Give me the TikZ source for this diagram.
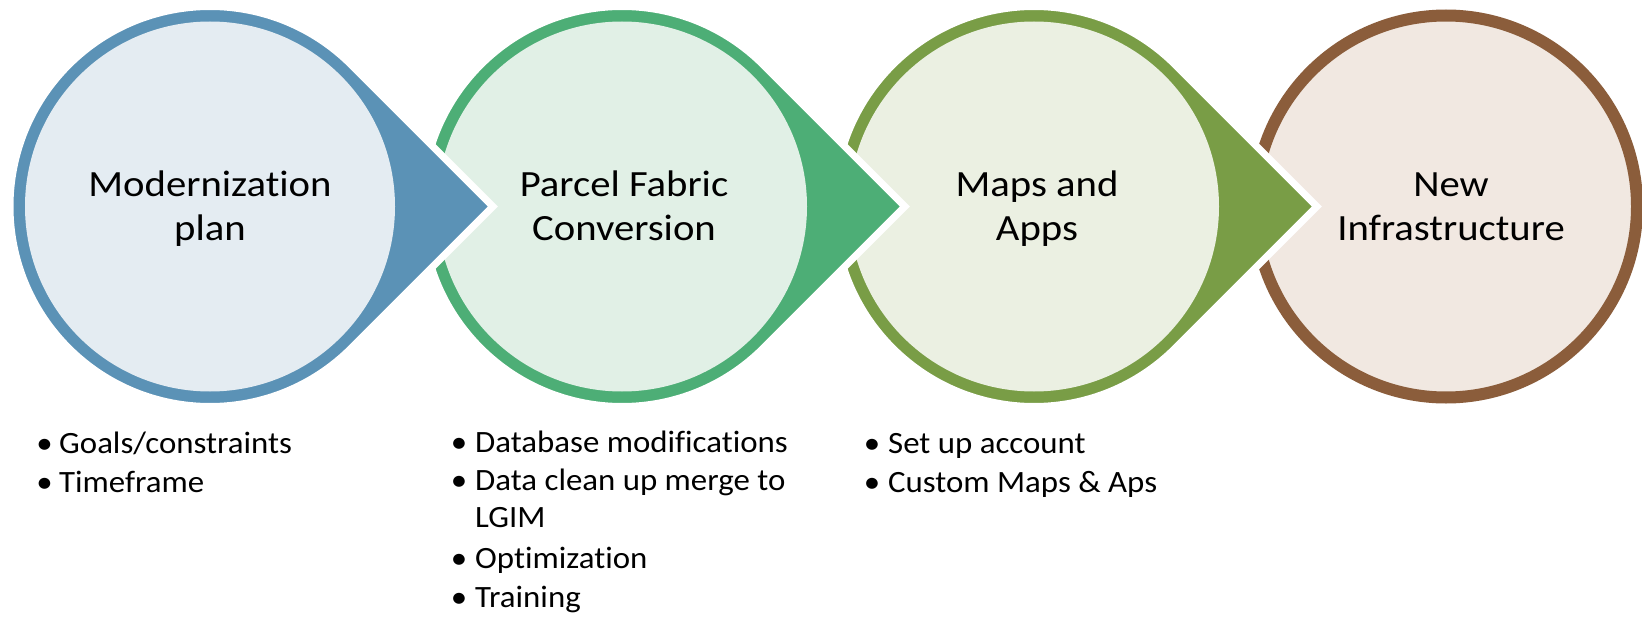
\documentclass[tikz,border=0pt]{standalone}
\usepackage{fontspec}
\setmainfont[Ligatures={NoCommon}]{Carlito}
\newfontfamily\ttlfont[FakeStretch=1.1,Ligatures={NoCommon}]{Carlito}
\newfontfamily\bulfont[FakeStretch=1.06,Ligatures={NoCommon}]{Carlito}
\usetikzlibrary{calc}
\definecolor{cA}{HTML}{5B92B6}
\definecolor{cAt}{HTML}{E4ECF2}
\definecolor{cB}{HTML}{4DAE76}
\definecolor{cBt}{HTML}{E1F0E6}
\definecolor{cC}{HTML}{799D46}
\definecolor{cCt}{HTML}{EBF0E2}
\definecolor{cD}{HTML}{8B5D3B}
\definecolor{cDt}{HTML}{F1E8E1}
\begin{document}
\begin{tikzpicture}[x=1pt,y=-1pt,
  ttl/.style={font=\ttlfont\fontsize{37}{44}\selectfont, inner sep=0, anchor=base},
  bultxt/.style={font=\bulfont\fontsize{31}{37}\selectfont, inner sep=0, anchor=base west},
  bulmark/.style={font=\bulfont\fontsize{31}{37}\selectfont, inner sep=0, anchor=base},
  drop/.style={line width=7, draw=white, line join=miter}]
\useasboundingbox (0,0) rectangle (1642,618);
\fill[white] (0,0) rectangle (1642,618);
\coordinate (c1) at (210,206.5);
\coordinate (c2) at (622,206.5);
\coordinate (c3) at (1034,206.5);
\coordinate (c4) at (1446,206.5);
% circle 4
\node[circle, fill=cDt, draw=cD, line width=12, minimum size=382, inner sep=0] (n4) at (c4) {};
% teardrop 3
\path[drop, fill=cC] ($(c3)+(45:200)$) arc[start angle=45, end angle=315, radius=200] -- ($(c3)+(282.8,0)$) -- cycle;
\node[circle, fill=cCt, minimum size=370, inner sep=0] (n3) at (c3) {};
% teardrop 2
\path[drop, fill=cB] ($(c2)+(45:200)$) arc[start angle=45, end angle=315, radius=200] -- ($(c2)+(282.8,0)$) -- cycle;
\node[circle, fill=cBt, minimum size=370, inner sep=0] (n2) at (c2) {};
% teardrop 1
\path[drop, fill=cA] ($(c1)+(45:200)$) arc[start angle=45, end angle=315, radius=200] -- ($(c1)+(282.8,0)$) -- cycle;
\node[circle, fill=cAt, minimum size=370, inner sep=0] (n1) at (c1) {};
% titles
\node[ttl] (t1a) at (210,196) {Modernization};
\node[ttl] (t1b) at (210,240) {plan};
\node[ttl] (t2a) at (624,196) {Parcel Fabric};
\node[ttl] (t2b) at (624,240) {Conversion};
\node[ttl] (t3a) at (1037,196) {Maps and};
\node[ttl] (t3b) at (1037,240) {Apps};
\node[ttl] (t4a) at (1451,196) {New};
\node[ttl] (t4b) at (1451,240) {Infrastructure};
% bullets column 1
\node[bulmark] (b1a) at (44.5,453) {•};
\node[bultxt] (l1a) at (59,453) {Goals/constraints};
\node[bulmark] (b1b) at (44.5,492) {•};
\node[bultxt] (l1b) at (59,492) {Timeframe};
% bullets column 2
\node[bulmark] (b2a) at (459,452) {•};
\node[bultxt] (l2a) at (475,452) {Database modifications};
\node[bulmark] (b2b) at (459,490) {•};
\node[bultxt] (l2b) at (475,490) {Data clean up merge to};
\node[bultxt] (l2c) at (475,527) {LGIM};
\node[bulmark] (b2d) at (459,568) {•};
\node[bultxt] (l2d) at (475,568) {Optimization};
\node[bulmark] (b2e) at (459,607) {•};
\node[bultxt] (l2e) at (475,607) {Training};
% bullets column 3
\node[bulmark] (b3a) at (872,453) {•};
\node[bultxt] (l3a) at (888,453) {Set up account};
\node[bulmark] (b3b) at (872,492) {•};
\node[bultxt] (l3b) at (888,492) {Custom Maps \& Aps};
\end{tikzpicture}
\end{document}
